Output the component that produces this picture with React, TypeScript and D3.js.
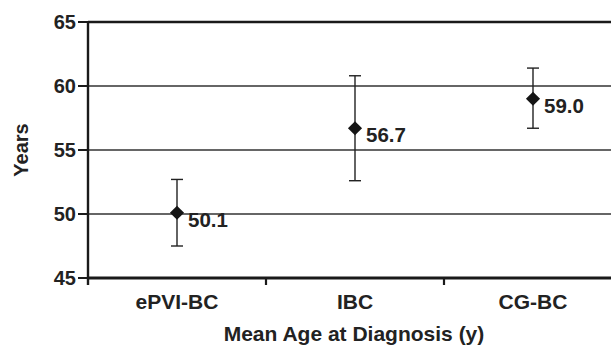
import React, { useRef, useEffect } from "react";
import { select, scaleBand, scaleLinear, symbol, symbolSquare } from "d3";

const categories = ["ePVI-BC", "IBC", "CG-BC"];
const means = [50.1, 56.7, 59.0];
const lows = [47.5, 52.6, 56.7];
const highs = [52.7, 60.8, 61.4];
const yTicks = [45, 50, 55, 60, 65];

const W = 611;
const H = 348;
const FONT = "'Liberation Sans', Arial, Helvetica, sans-serif";

function App() {
    const svgRef = useRef(null);

    useEffect(() => {
        const svg = select(svgRef.current);
        svg.selectAll("*").remove();

        // scales
        const x = scaleBand().domain(categories).range([88, 622]);
        const y = scaleLinear().domain([45, 65]).range([278, 22]);
        const cx = (c) => x(c) + x.bandwidth() / 2;

        // grid lines
        svg.selectAll(".grid")
            .data(yTicks.filter(t => t > 45 && t < 65))
            .join("line")
            .attr("class", "grid")
            .attr("x1", 88).attr("x2", W)
            .attr("y1", d => y(d)).attr("y2", d => y(d))
            .attr("stroke", "#333")
            .attr("stroke-width", 1.3);

        // top border
        svg.append("line")
            .attr("x1", 88).attr("x2", W)
            .attr("y1", y(65)).attr("y2", y(65))
            .attr("stroke", "#1a1a1a").attr("stroke-width", 2.4);

        // y axis
        svg.append("line")
            .attr("x1", 88).attr("x2", 88)
            .attr("y1", y(65) - 1).attr("y2", y(45) + 7)
            .attr("stroke", "#1a1a1a").attr("stroke-width", 2.4);

        svg.selectAll(".ytick")
            .data(yTicks)
            .join("line")
            .attr("class", "ytick")
            .attr("x1", 78).attr("x2", 88)
            .attr("y1", d => y(d)).attr("y2", d => y(d))
            .attr("stroke", "#1a1a1a").attr("stroke-width", 2);

        svg.selectAll(".ylabel")
            .data(yTicks)
            .join("text")
            .attr("class", "ylabel")
            .attr("x", 76)
            .attr("y", d => y(d))
            .attr("dy", "0.36em")
            .attr("text-anchor", "end")
            .attr("font-family", FONT)
            .attr("font-weight", "bold")
            .attr("font-size", 20)
            .attr("fill", "#222")
            .text(d => d);

        // x axis
        svg.append("line")
            .attr("x1", 88).attr("x2", W)
            .attr("y1", y(45)).attr("y2", y(45))
            .attr("stroke", "#1a1a1a").attr("stroke-width", 2.8);

        svg.selectAll(".xtick")
            .data(categories.slice(1))
            .join("line")
            .attr("class", "xtick")
            .attr("x1", d => x(d)).attr("x2", d => x(d))
            .attr("y1", y(45)).attr("y2", y(45) + 7)
            .attr("stroke", "#1a1a1a").attr("stroke-width", 2.2);

        svg.selectAll(".xlabel")
            .data(categories)
            .join("text")
            .attr("class", "xlabel")
            .attr("x", d => cx(d))
            .attr("y", 309)
            .attr("text-anchor", "middle")
            .attr("font-family", FONT)
            .attr("font-weight", "bold")
            .attr("font-size", 21)
            .attr("fill", "#222")
            .text(d => d);

        // axis titles
        svg.append("text")
            .attr("x", 354).attr("y", 341)
            .attr("text-anchor", "middle")
            .attr("font-family", FONT)
            .attr("font-weight", "bold")
            .attr("font-size", 21)
            .attr("fill", "#222")
            .text("Mean Age at Diagnosis (y)");

        svg.append("text")
            .attr("transform", "translate(28,150) rotate(-90)")
            .attr("text-anchor", "middle")
            .attr("font-family", FONT)
            .attr("font-weight", "bold")
            .attr("font-size", 20)
            .attr("fill", "#222")
            .text("Years");

        // error bars
        const bars = svg.selectAll(".err")
            .data(categories)
            .join("g")
            .attr("class", "err")
            .attr("stroke", "#222")
            .attr("stroke-width", 1.4);
        bars.append("line")
            .attr("x1", d => cx(d)).attr("x2", d => cx(d))
            .attr("y1", (d, i) => y(highs[i])).attr("y2", (d, i) => y(lows[i]));
        bars.append("line")
            .attr("x1", d => cx(d) - 6).attr("x2", d => cx(d) + 6)
            .attr("y1", (d, i) => y(highs[i])).attr("y2", (d, i) => y(highs[i]));
        bars.append("line")
            .attr("x1", d => cx(d) - 6).attr("x2", d => cx(d) + 6)
            .attr("y1", (d, i) => y(lows[i])).attr("y2", (d, i) => y(lows[i]));

        // mean markers (square turned 45deg)
        svg.selectAll(".pt")
            .data(categories)
            .join("path")
            .attr("class", "pt")
            .attr("d", symbol().type(symbolSquare).size(100))
            .attr("transform", (d, i) => `translate(${cx(d)},${y(means[i])}) rotate(45)`)
            .attr("fill", "#151515");

        svg.selectAll(".val")
            .data(categories)
            .join("text")
            .attr("class", "val")
            .attr("x", d => cx(d) + 11)
            .attr("y", (d, i) => y(means[i]) + 14)
            .attr("font-family", FONT)
            .attr("font-weight", "bold")
            .attr("font-size", 20.5)
            .attr("fill", "#222")
            .text((d, i) => means[i].toFixed(1));
    }, []);

    return (
        <svg ref={svgRef} width={W} height={H}
            style={{ position: "absolute", left: 0, top: 0, background: "#fff" }} />
    );
}

export default App;
